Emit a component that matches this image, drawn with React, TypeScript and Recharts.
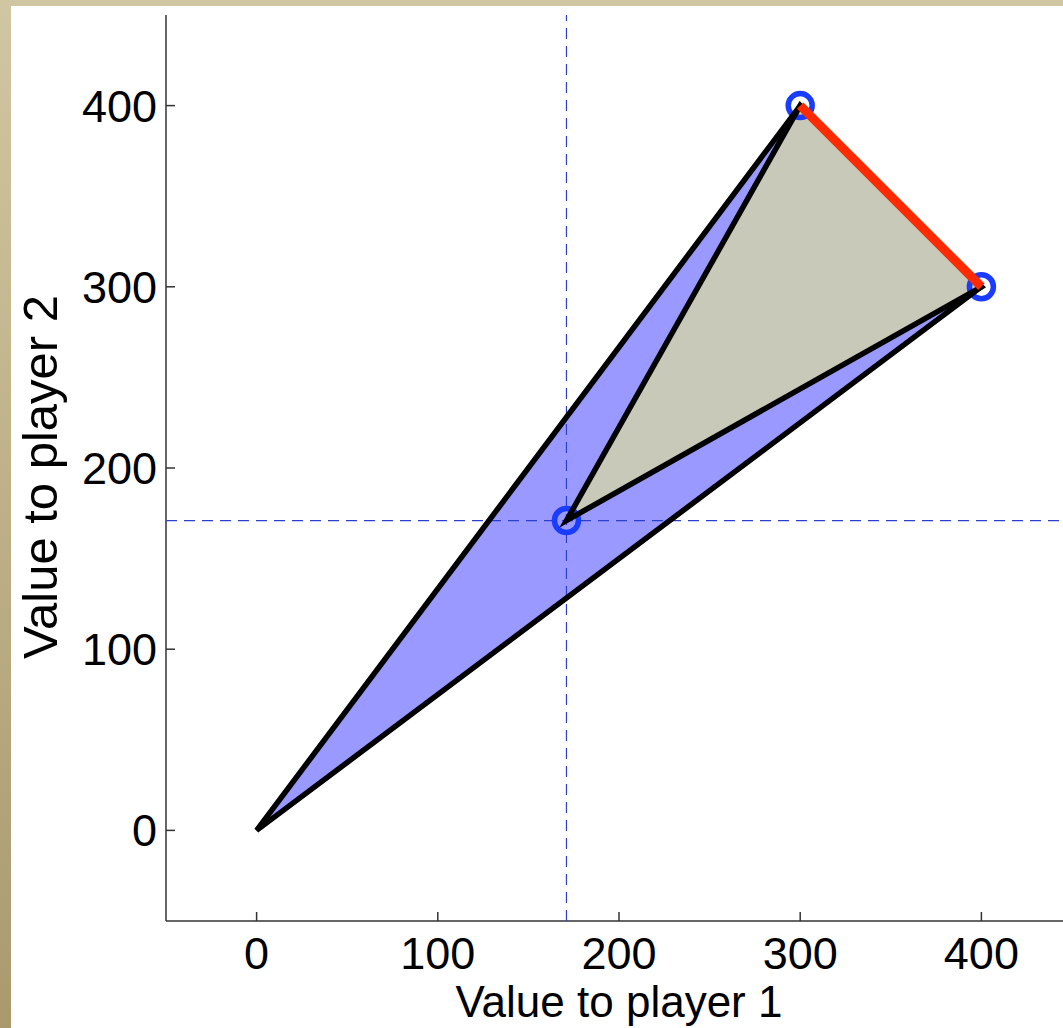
import { ScatterChart, Scatter, XAxis, YAxis } from 'recharts'

// vertices of the feasible set (blue) and the bargaining set (grey)
const feasible = [
  { x: 0, y: 0 },
  { x: 300, y: 400 },
  { x: 400, y: 300 },
]
const threatPoint = [{ x: 171, y: 171 }]
const bargaining = [
  { x: 171, y: 171 },
  { x: 300, y: 400 },
  { x: 400, y: 300 },
]
const paretoFrontier = [
  { x: 300, y: 400 },
  { x: 400, y: 300 },
]
const markedPoints = [
  { x: 300, y: 400 },
  { x: 400, y: 300 },
  { x: 171, y: 171 },
]
const xTicks = [0, 100, 200, 300, 400]
const yTicks = [0, 100, 200, 300, 400]
const domain: [number, number] = [-50, 450]

// dashed guides through the threat point, spanning the axis range
const vGuide = [{ x: threatPoint[0].x, y: domain[0] }, { x: threatPoint[0].x, y: domain[1] }]
const hGuide = [{ x: domain[0], y: threatPoint[0].y }, { x: domain[1], y: threatPoint[0].y }]

const polygon = (fill: string, stroke: string, width: number) => (p: any) => {
  const d = p.points.map((q: any, i: number) => `${i ? 'L' : 'M'}${q.x},${q.y}`).join('') + 'Z'
  return <path d={d} fill={fill} stroke={stroke} strokeWidth={width} />
}

const noDot = () => <g />

const ring = (p: any) => (
  <circle cx={p.cx} cy={p.cy} r={12} fill="none" stroke="#1a3cff" strokeWidth={5.5} />
)

const tickStyle = { fontSize: 45, fill: '#000' }
const guideLine = { stroke: '#2b3fd0', strokeWidth: 1.2, strokeDasharray: '11 7' }

export default function App() {
  return (
    <div style={{
      position: 'fixed', left: 0, top: 0, width: 1063, height: 1028, overflow: 'hidden',
      background: 'linear-gradient(to bottom, #d1c6a2, #a99a6e)',
      fontFamily: '"Liberation Sans", Arial, sans-serif',
    }}>
      <div style={{ position: 'absolute', left: 11, top: 6, width: 1052, height: 1022, background: '#fff' }} />
      <div style={{ position: 'absolute', left: 0, top: 0 }}>
        <ScatterChart width={1080} height={1028} margin={{ top: 15, right: 8, bottom: 0, left: 10 }}>
          <XAxis
            type="number" dataKey="x" domain={domain} ticks={xTicks} allowDataOverflow
            axisLine={{ stroke: '#333', strokeWidth: 1.5 }} tickLine={{ stroke: '#333', strokeWidth: 1.5 }}
            tickSize={-9} tickMargin={25} height={107} tick={tickStyle}
            label={{ value: 'Value to player 1', position: 'insideBottom', offset: 11, fontSize: 44, fill: '#000' }}
          />
          <YAxis
            type="number" dataKey="y" domain={domain} ticks={yTicks} allowDataOverflow
            axisLine={{ stroke: '#333', strokeWidth: 1.5 }} tickLine={{ stroke: '#333', strokeWidth: 1.5 }}
            tickSize={-9} tickMargin={18} width={156} tick={tickStyle}
            label={{
              value: 'Value to player 2', angle: -90, position: 'insideLeft', offset: 30, dy: 9,
              fontSize: 49, fill: '#000', style: { textAnchor: 'middle' },
            }}
          />
          <Scatter data={feasible} shape={noDot} line={polygon('#9999ff', 'none', 0)} isAnimationActive={false} />
          <Scatter data={bargaining} shape={noDot} line={polygon('#c9c9ba', 'none', 0)} isAnimationActive={false} />
          <Scatter data={vGuide} shape={noDot} line={guideLine} isAnimationActive={false} />
          <Scatter data={hGuide} shape={noDot} line={guideLine} isAnimationActive={false} />
          <Scatter data={markedPoints} shape={ring} isAnimationActive={false} />
          <Scatter data={feasible} shape={noDot} line={polygon('none', '#000', 5.5)} isAnimationActive={false} />
          <Scatter data={bargaining} shape={noDot} line={polygon('none', '#000', 5.5)} isAnimationActive={false} />
          <Scatter data={paretoFrontier} shape={noDot} line={{ stroke: '#ff2a00', strokeWidth: 9 }} isAnimationActive={false} />
        </ScatterChart>
      </div>
    </div>
  )
}
